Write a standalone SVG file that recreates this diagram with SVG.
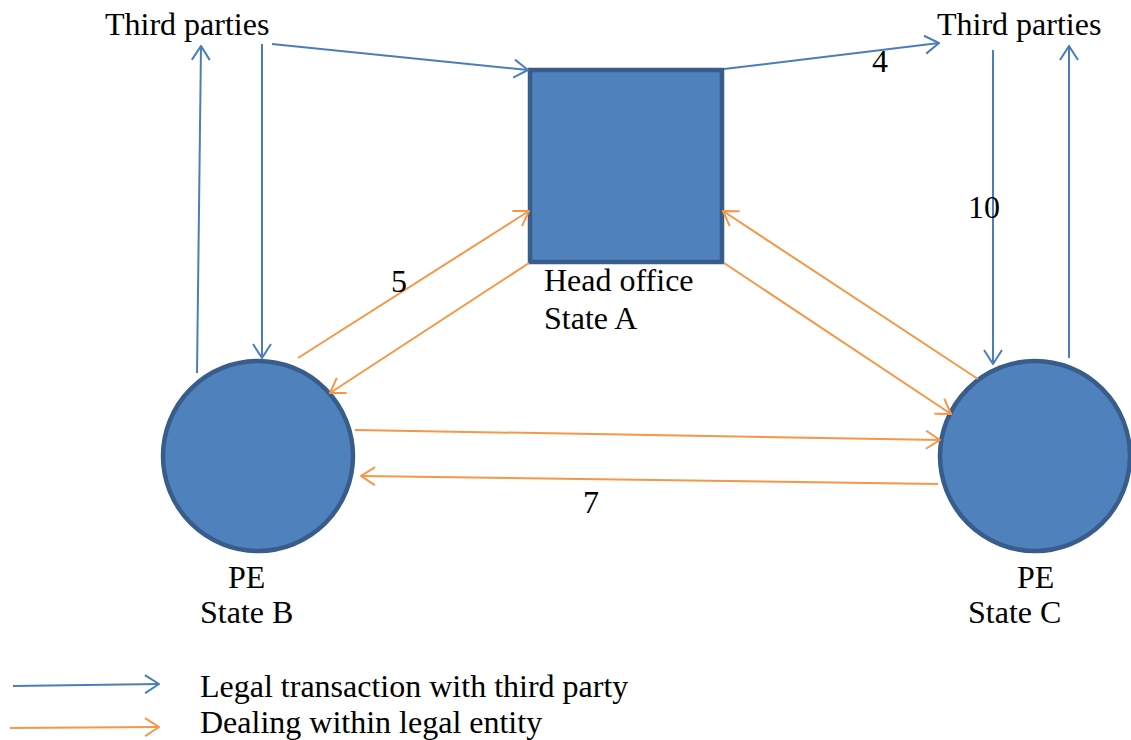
<svg xmlns="http://www.w3.org/2000/svg" width="1131" height="740" viewBox="0 0 1131 740">
  <style>
    .lbl { font-size: 32px; fill: #000; }
    .node { fill: #4f81bd; stroke: #385d8a; stroke-width: 4.5; }
    .blue { stroke: #4a7ebb; stroke-width: 2; fill: none; marker-end: url(#arrBlue); }
    .orange { stroke: #f79646; stroke-width: 2; fill: none; marker-end: url(#arrOrange); }
  </style>
  <defs>
    <marker id="arrBlue" viewBox="0 0 16 20" refX="15" refY="10" markerWidth="16" markerHeight="20" markerUnits="userSpaceOnUse" orient="auto">
      <path d="M1,1 L15,10 L1,19" fill="none" stroke="#4a7ebb" stroke-width="2"/>
    </marker>
    <marker id="arrOrange" viewBox="0 0 16 20" refX="15" refY="10" markerWidth="16" markerHeight="20" markerUnits="userSpaceOnUse" orient="auto">
      <path d="M1,1 L15,10 L1,19" fill="none" stroke="#f79646" stroke-width="2"/>
    </marker>
  </defs>
  <rect width="1131" height="740" fill="#fff"/>

  <g font-family="'Liberation Serif', 'Times New Roman', Times, serif">
  <!-- Entities -->
  <g id="head-office">
    <rect class="node" x="530" y="70" width="192" height="192"/>
    <text class="lbl" x="544" y="291">Head office</text>
    <text class="lbl" x="544" y="329">State A</text>
  </g>
  <g id="pe-state-b">
    <circle class="node" cx="258" cy="456" r="95"/>
    <text class="lbl" x="228" y="588">PE</text>
    <text class="lbl" x="200" y="623">State B</text>
  </g>
  <g id="pe-state-c">
    <circle class="node" cx="1035" cy="456" r="95"/>
    <text class="lbl" x="1017" y="588">PE</text>
    <text class="lbl" x="968" y="623">State C</text>
  </g>
  <g id="third-parties-left">
    <text class="lbl" x="105" y="35">Third parties</text>
  </g>
  <g id="third-parties-right">
    <text class="lbl" x="937" y="35">Third parties</text>
  </g>

  <!-- Flows -->
  <g id="connectors">
    <line class="blue" x1="197" y1="373" x2="201" y2="46"/>
    <line class="blue" x1="262" y1="44" x2="262" y2="358"/>
    <line class="blue" x1="272" y1="44" x2="528" y2="70"/>
    <line class="blue" x1="724" y1="69" x2="939" y2="43"/>
    <line class="blue" x1="993" y1="50" x2="993" y2="364"/>
    <line class="blue" x1="1069" y1="358" x2="1069" y2="46"/>

    <line class="orange" x1="298" y1="358" x2="529" y2="211"/>
    <line class="orange" x1="529" y1="263" x2="330" y2="393"/>
    <line class="orange" x1="724" y1="263" x2="951" y2="414"/>
    <line class="orange" x1="978" y1="379" x2="723" y2="211"/>
    <line class="orange" x1="355" y1="430" x2="940" y2="440"/>
    <line class="orange" x1="938" y1="484" x2="361" y2="476"/>

    <text class="lbl" x="872" y="72">4</text>
    <text class="lbl" x="968" y="218">10</text>
    <text class="lbl" x="391" y="292">5</text>
    <text class="lbl" x="583" y="513">7</text>
  </g>

  <!-- Key -->
  <g id="legend">
    <line class="blue" x1="13" y1="686" x2="159" y2="684"/>
    <text class="lbl" x="200" y="697">Legal transaction with third party</text>
    <line class="orange" x1="10" y1="728" x2="159" y2="727"/>
    <text class="lbl" x="200" y="733">Dealing within legal entity</text>
  </g>
  </g>
</svg>
